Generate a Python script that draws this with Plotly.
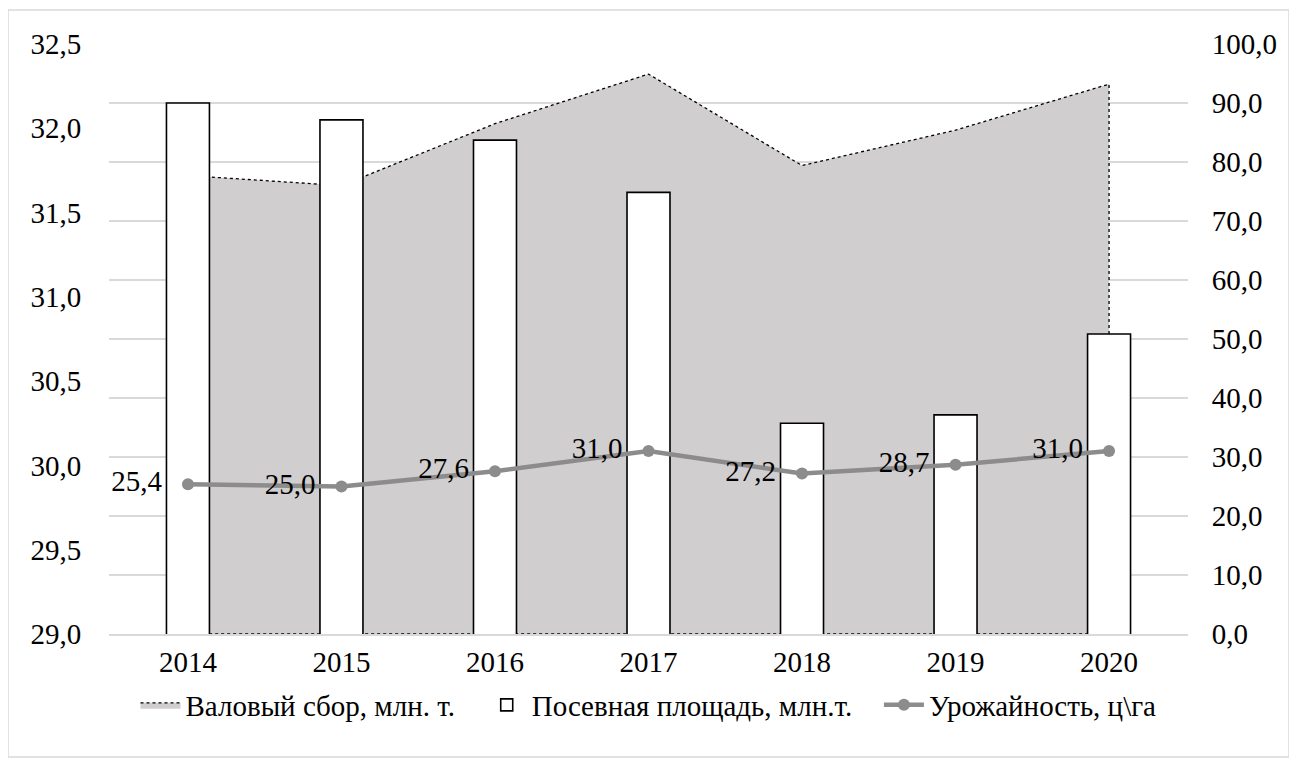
import plotly.graph_objects as go

years = ["2014", "2015", "2016", "2017", "2018", "2019", "2020"]
gross_harvest = [77.7, 76.0, 86.5, 94.9, 79.4, 85.4, 93.2]      # Валовый сбор, млн. т. (right axis)
sown_area = [32.15, 32.05, 31.93, 31.62, 30.25, 30.30, 30.78]    # Посевная площадь, млн.т. (left axis)
yield_c_ha = [25.4, 25.0, 27.6, 31.0, 27.2, 28.7, 31.0]          # Урожайность, ц\га (right axis)

left_ticks = [29.0, 29.5, 30.0, 30.5, 31.0, 31.5, 32.0, 32.5]
right_ticks = [0, 10, 20, 30, 40, 50, 60, 70, 80, 90, 100]

FONT = "'Liberation Serif', 'DejaVu Serif', Tinos, 'Times New Roman', serif"
FS = 29
PAD = "\u00a0\u00a0\u00a0"

# page has an 8px body margin: figure sits at (8, 8) on the page
OFF = 8
W, H = 1297 - OFF, 765 - OFF
L, R, T, B = 109 - OFF, 109, 44 - OFF, 131
pw, ph = W - L - R, H - T - B


def px_x(p):  # page pixel -> paper x
    return (p - OFF - L) / pw


def px_y(p):  # page pixel -> paper y
    return (H - B - (p - OFF)) / ph


fig = go.Figure()

# area (closed polygon so its dotted border goes round it)
fig.add_trace(go.Scatter(
    x=years + [years[-1], years[0]],
    y=gross_harvest + [0, 0],
    mode="lines", fill="toself",
    fillcolor="#d0cece",
    line=dict(color="#000000", width=1.3, dash="dot"),
    name="Валовый сбор, млн. т." + PAD,
    yaxis="y", hoverinfo="skip",
))

fig.add_trace(go.Bar(
    x=years, y=sown_area,
    width=0.28,
    marker=dict(color="#ffffff", line=dict(color="#000000", width=1.6)),
    name="Посевная площадь, млн.т." + PAD,
    yaxis="y2",
))

fig.add_trace(go.Scatter(
    x=years, y=yield_c_ha,
    mode="lines+markers",
    line=dict(color="#8c8c8c", width=4.5),
    marker=dict(color="#8c8c8c", size=12),
    name="Урожайность, ц\\га",
    yaxis="y3",
    cliponaxis=False,
))

# data labels (invisible large markers give the label offset)
fig.add_trace(go.Scatter(
    x=years, y=yield_c_ha,
    mode="markers+text",
    marker=dict(color="rgba(0,0,0,0)", size=40),
    text=[f"{v:.1f}".replace(".", ",") for v in yield_c_ha],
    textposition="middle left",
    textfont=dict(family=FONT, size=FS, color="#000000"),
    showlegend=False, hoverinfo="skip",
    yaxis="y3",
    cliponaxis=False,
))

fig.update_layout(
    width=W, height=H,
    margin=dict(l=L, r=R, t=T, b=B, autoexpand=False),
    paper_bgcolor="#ffffff", plot_bgcolor="#ffffff",
    font=dict(family=FONT, size=FS, color="#000000"),
    separators=", ",
    showlegend=True,
    legend=dict(orientation="h", x=0.5, xanchor="center", y=px_y(705), yanchor="middle",
                bgcolor="rgba(0,0,0,0)", itemwidth=40,
                font=dict(family=FONT, size=FS), traceorder="normal"),
    xaxis=dict(type="category", showgrid=False, showline=True, linecolor="#d9d9d9", linewidth=1.5,
               ticks="outside", ticklen=1, tickcolor="rgba(0,0,0,0)",
               tickfont=dict(family=FONT, size=FS)),
    yaxis=dict(side="right", range=[0, 100], tickvals=right_ticks,
               ticktext=[f"{v:.1f}".replace(".", ",") for v in right_ticks],
               showgrid=True, gridcolor="#d9d9d9", gridwidth=1.5, zeroline=False,
               ticks="outside", ticklen=17, tickcolor="rgba(0,0,0,0)",
               tickfont=dict(family=FONT, size=FS)),
    yaxis2=dict(side="left", overlaying="y", range=[29, 32.5], tickvals=left_ticks,
                ticktext=[f"{v:.1f}".replace(".", ",") for v in left_ticks],
                showgrid=False, zeroline=False,
                ticks="outside", ticklen=21, tickcolor="rgba(0,0,0,0)",
                tickfont=dict(family=FONT, size=FS)),
    yaxis3=dict(overlaying="y", range=[0, 100], visible=False),
    shapes=[dict(type="rect", xref="paper", yref="paper",
                 x0=px_x(8), x1=px_x(1289), y0=px_y(757), y1=px_y(10),
                 line=dict(color="#d9d9d9", width=1.5), fillcolor="rgba(0,0,0,0)", layer="below")],
)

fig.write_html("out.html")
